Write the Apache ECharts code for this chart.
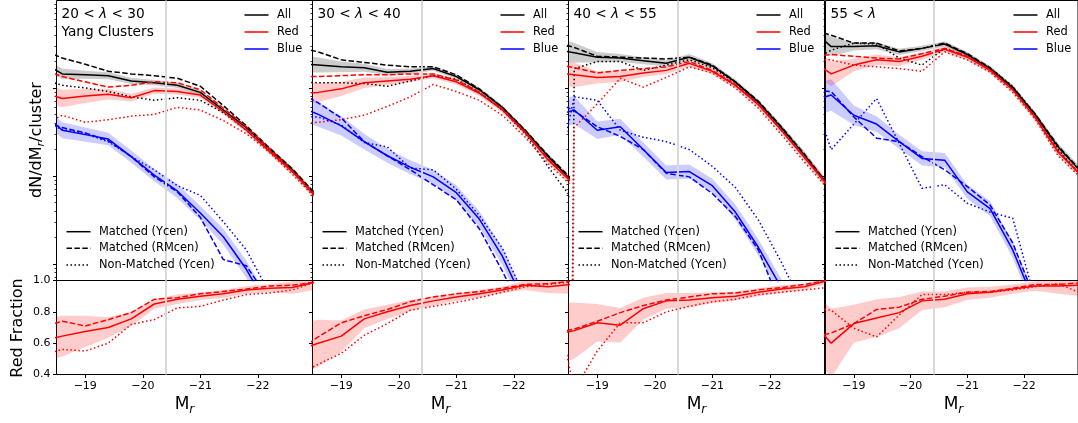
<!DOCTYPE html>
<html>
<head>
<meta charset="utf-8">
<script src="https://cdn.jsdelivr.net/npm/echarts@6.0.0/dist/echarts.min.js"></script>
<style>
html, body { margin:0; padding:0; background:#ffffff; }
#chart { width:1078px; height:423px; }
</style>
</head>
<body>
<div id="chart"></div>
<script>
// ---------------- DATA ----------------
// magnitude bin centres (M_r)
const magBins = [-18.2, -18.6, -19.0, -19.4, -19.8, -20.2, -20.6, -21.0, -21.4, -21.8, -22.2, -22.6, -23.0];
const xTickVals = [-19, -20, -21, -22];
const refMag = -20.4;
const panelTitles = ['20 < λ < 30', '30 < λ < 40', '40 < λ < 55', '55 < λ'];
const subTitle = 'Yang Clusters';
const colourLegend = ['All', 'Red', 'Blue'];
const styleLegend = ['Matched (Ycen)', 'Matched (RMcen)', 'Non-Matched (Ycen)'];
const majorLogTicks = [0.1, 1, 10];
const minorLogTicks = [0.07, 0.08, 0.09, 0.2, 0.3, 0.4, 0.5, 0.6, 0.7, 0.8, 0.9, 2, 3, 4, 5, 6, 7, 8, 9, 20, 30, 40, 50, 60, 70, 80, 90];

// log10(dN/dM_r per cluster); -30 marks an empty bin (zero counts)
// Panel 1 : 20 < lambda < 30
const p1AllMatched  = [1.31, 1.16, 1.15, 1.14, 1.08, 1.06, 1.03, 0.95, 0.75, 0.55, 0.31, 0.07, -0.22];
const p1AllRM       = [1.45, 1.34, 1.27, 1.19, 1.16, 1.14, 1.11, 1.02, 0.80, 0.57, 0.32, 0.08, -0.20];
const p1AllNon      = [1.11, 1.03, 1.00, 0.96, 0.90, 0.86, 0.89, 0.86, 0.72, 0.52, 0.30, 0.05, -0.23];
const p1RedMatched  = [0.96, 0.88, 0.91, 0.93, 0.89, 0.97, 0.96, 0.92, 0.73, 0.52, 0.28, 0.05, -0.23];
const p1RedRM       = [1.22, 1.13, 1.07, 1.01, 1.03, 1.07, 1.06, 0.98, 0.77, 0.56, 0.31, 0.06, -0.22];
const p1RedNon      = [0.56, 0.69, 0.61, 0.64, 0.68, 0.70, 0.78, 0.75, 0.63, 0.48, 0.27, 0.02, -0.25];
const p1BlueMatched = [0.75, 0.52, 0.47, 0.42, 0.22, 0.01, -0.17, -0.42, -0.69, -1.06, -1.52, -1.98, -2.43];
const p1BlueRM      = [0.64, 0.55, 0.49, 0.40, 0.22, -0.01, -0.18, -0.47, -0.95, -1.02, -1.41, -1.98, -2.43];
const p1BlueNon     = [0.63, 0.53, 0.48, 0.39, 0.22, 0.07, -0.11, -0.22, -0.52, -0.84, -1.33, -1.75, -2.20];
const p1AllErr      = [0.07, 0.06, 0.045, 0.04, 0.035, 0.03, 0.03, 0.025, 0.025, 0.025, 0.025, 0.03, 0.035];
const p1RedErr      = [0.11, 0.10, 0.08, 0.06, 0.045, 0.035, 0.035, 0.03, 0.03, 0.03, 0.03, 0.035, 0.04];
const p1BlueErr     = [0.10, 0.09, 0.08, 0.07, 0.07, 0.07, 0.08, 0.08, 0.09, 0.10, 0.11, 0.125, 0.14];
const p1FracMatched = [0.61, 0.645, 0.675, 0.70, 0.755, 0.85, 0.88, 0.90, 0.915, 0.94, 0.95, 0.955, 0.99];
const p1FracRM      = [0.70, 0.74, 0.71, 0.75, 0.795, 0.88, 0.89, 0.915, 0.93, 0.945, 0.965, 0.97, 0.99];
const p1FracNon     = [0.52, 0.56, 0.55, 0.60, 0.72, 0.75, 0.825, 0.835, 0.875, 0.91, 0.92, 0.94, 0.99];
const p1FracErr     = [0.14, 0.13, 0.10, 0.065, 0.045, 0.03, 0.03, 0.025, 0.025, 0.025, 0.025, 0.04, 0.05];

// Panel 2 : 30 < lambda < 40
const p2AllMatched  = [1.28, 1.26, 1.24, 1.23, 1.18, 1.19, 1.22, 1.13, 0.98, 0.78, 0.51, 0.22, -0.05];
const p2AllRM       = [1.47, 1.41, 1.32, 1.29, 1.26, 1.24, 1.24, 1.15, 0.99, 0.78, 0.52, 0.23, -0.03];
const p2AllNon      = [1.07, 1.06, 1.06, 1.05, 1.02, 1.08, 1.14, 1.10, 0.95, 0.75, 0.48, 0.10, -0.25];
const p2RedMatched  = [0.94, 0.95, 0.99, 1.06, 1.08, 1.10, 1.14, 1.07, 0.94, 0.75, 0.49, 0.18, -0.07];
const p2RedRM       = [1.13, 1.13, 1.14, 1.15, 1.15, 1.16, 1.16, 1.09, 0.95, 0.76, 0.50, 0.19, -0.06];
const p2RedNon      = [0.60, 0.61, 0.64, 0.69, 0.79, 0.90, 1.04, 0.96, 0.86, 0.69, 0.44, 0.14, -0.11];
const p2BlueMatched = [0.81, 0.70, 0.57, 0.39, 0.23, 0.10, -0.01, -0.19, -0.49, -0.91, -1.47, -2.03, -2.60];
const p2BlueRM      = [0.98, 0.83, 0.66, 0.39, 0.23, 0.07, -0.10, -0.27, -0.60, -1.08, -1.61, -2.18, -2.75];
const p2BlueNon     = [0.68, 0.67, 0.58, 0.38, 0.33, 0.09, 0.07, -0.15, -0.45, -0.82, -1.39, -1.98, -2.55];
const p2AllErr      = [0.10, 0.085, 0.06, 0.045, 0.035, 0.03, 0.025, 0.025, 0.025, 0.025, 0.025, 0.03, 0.035];
const p2RedErr      = [0.12, 0.11, 0.08, 0.06, 0.045, 0.035, 0.03, 0.03, 0.03, 0.03, 0.03, 0.035, 0.04];
const p2BlueErr     = [0.15, 0.14, 0.11, 0.09, 0.08, 0.08, 0.08, 0.085, 0.09, 0.10, 0.11, 0.12, 0.13];
const p2FracMatched = [0.55, 0.60, 0.645, 0.755, 0.80, 0.84, 0.87, 0.895, 0.915, 0.94, 0.97, 0.96, 0.975];
const p2FracRM      = [0.54, 0.64, 0.73, 0.775, 0.815, 0.865, 0.895, 0.915, 0.93, 0.95, 0.975, 0.98, 0.995];
const p2FracNon     = [0.39, 0.465, 0.535, 0.65, 0.725, 0.81, 0.835, 0.86, 0.89, 0.925, 0.96, 0.975, 0.99];
const p2FracErr     = [0.17, 0.15, 0.10, 0.06, 0.045, 0.035, 0.03, 0.025, 0.025, 0.02, 0.03, 0.04, 0.06];

// Panel 3 : 40 < lambda < 55
const p3AllMatched  = [1.45, 1.40, 1.35, 1.34, 1.31, 1.28, 1.35, 1.25, 1.07, 0.84, 0.55, 0.24, -0.10];
const p3AllRM       = [1.53, 1.46, 1.36, 1.35, 1.34, 1.33, 1.35, 1.26, 1.07, 0.85, 0.56, 0.25, -0.09];
const p3AllNon      = [-30, 1.22, 1.30, 1.30, 1.20, 1.26, 1.32, 1.23, 1.06, 0.83, 0.53, 0.22, -0.11];
const p3RedMatched  = [1.18, 1.15, 1.12, 1.13, 1.17, 1.20, 1.28, 1.19, 1.03, 0.81, 0.52, 0.21, -0.10];
const p3RedRM       = [1.28, 1.23, 1.17, 1.20, 1.22, 1.24, 1.30, 1.20, 1.04, 0.82, 0.52, 0.22, -0.10];
const p3RedNon      = [-30, 0.55, 0.82, 1.11, 1.01, 1.12, 1.24, 1.17, 1.00, 0.77, 0.47, 0.16, -0.14];
const p3BlueMatched = [0.67, 0.75, 0.52, 0.56, 0.30, 0.04, 0.05, -0.11, -0.41, -0.81, -1.27, -1.75, -2.26];
const p3BlueRM      = [0.87, 0.74, 0.56, 0.45, 0.30, 0.03, -0.01, -0.20, -0.46, -0.84, -1.49, -2.09, -2.66];
const p3BlueNon     = [-0.30, 0.90, 0.86, 0.52, 0.44, 0.39, 0.30, 0.11, -0.13, -0.50, -0.98, -1.52, -2.09];
const p3AllErr      = [0.14, 0.11, 0.06, 0.045, 0.04, 0.035, 0.035, 0.03, 0.03, 0.03, 0.035, 0.04, 0.045];
const p3RedErr      = [0.15, 0.14, 0.07, 0.06, 0.045, 0.04, 0.035, 0.035, 0.035, 0.035, 0.035, 0.04, 0.045];
const p3BlueErr     = [0.17, 0.16, 0.10, 0.09, 0.08, 0.08, 0.08, 0.08, 0.085, 0.09, 0.10, 0.11, 0.125];
const p3FracMatched = [0.65, 0.68, 0.73, 0.715, 0.82, 0.87, 0.875, 0.89, 0.90, 0.925, 0.945, 0.96, 1.0];
const p3FracRM      = [0.66, 0.69, 0.74, 0.795, 0.84, 0.875, 0.895, 0.915, 0.92, 0.94, 0.955, 0.975, 1.0];
const p3FracNon     = [1.0, 0.30, 0.55, 0.73, 0.73, 0.80, 0.835, 0.865, 0.88, 0.91, 0.925, 0.94, 0.955];
const p3FracErr     = [0.20, 0.18, 0.12, 0.11, 0.07, 0.05, 0.045, 0.035, 0.03, 0.025, 0.025, 0.02, 0.02];

// Panel 4 : 55 < lambda
const p4AllMatched  = [1.70, 1.47, 1.47, 1.48, 1.41, 1.45, 1.50, 1.38, 1.22, 1.00, 0.69, 0.33, 0.05];
const p4AllRM       = [1.68, 1.60, 1.51, 1.51, 1.42, 1.45, 1.51, 1.39, 1.23, 1.01, 0.70, 0.34, 0.06];
const p4AllNon      = [1.28, 1.43, 1.51, 1.50, 1.34, 1.26, 1.45, 1.36, 1.23, 1.02, 0.70, 0.30, 0.01];
const p4RedMatched  = [1.34, 1.16, 1.26, 1.32, 1.30, 1.36, 1.44, 1.35, 1.20, 0.98, 0.66, 0.27, 0.01];
const p4RedRM       = [1.35, 1.38, 1.36, 1.34, 1.33, 1.39, 1.45, 1.36, 1.21, 0.98, 0.67, 0.28, 0.01];
const p4RedNon      = [1.32, 1.32, 1.26, 1.24, 1.22, 1.19, 1.41, 1.32, 1.18, 0.95, 0.64, 0.23, -0.02];
const p4BlueMatched = [0.84, 0.92, 0.69, 0.59, 0.39, 0.20, 0.18, -0.18, -0.37, -0.84, -1.47, -1.98, -2.55];
const p4BlueRM      = [0.98, 0.96, 0.67, 0.43, 0.39, 0.22, 0.07, -0.12, -0.33, -0.76, -1.41, -1.98, -2.55];
const p4BlueNon     = [1.07, 0.30, 0.59, 0.88, 0.37, -0.14, -0.10, -0.31, -0.41, -0.48, -1.42, -2.09, -2.77];
const p4AllErr      = [0.12, 0.11, 0.045, 0.04, 0.035, 0.03, 0.03, 0.03, 0.03, 0.03, 0.035, 0.04, 0.045];
const p4RedErr      = [0.15, 0.14, 0.07, 0.06, 0.05, 0.04, 0.035, 0.035, 0.035, 0.035, 0.035, 0.04, 0.045];
const p4BlueErr     = [0.19, 0.18, 0.11, 0.09, 0.08, 0.08, 0.08, 0.08, 0.085, 0.09, 0.10, 0.11, 0.12];
const p4FracMatched = [0.765, 0.60, 0.725, 0.76, 0.795, 0.87, 0.88, 0.915, 0.925, 0.945, 0.965, 0.965, 0.97];
const p4FracRM      = [0.63, 0.665, 0.725, 0.815, 0.83, 0.88, 0.90, 0.925, 0.93, 0.95, 0.975, 0.975, 0.985];
const p4FracNon     = [0.83, 0.81, 0.695, 0.64, 0.78, 0.91, 0.91, 0.925, 0.925, 0.94, 0.96, 0.98, 0.92];
const p4FracErr     = [0.20, 0.22, 0.12, 0.12, 0.10, 0.06, 0.05, 0.04, 0.035, 0.03, 0.03, 0.05, 0.07];

// ---------------- LAYOUT / STYLE ----------------
const FONT = 'DejaVu Sans';
const LEFTS = [56.5, 312.5, 568.5, 825.5];
const PANEL_W = 256;
const TOP_Y = 0.5, TOP_H = 280, BOT_Y = 280.5, BOT_H = 94;
const X_MIN = -22.95, X_MAX = -18.5;
const Y_LOG_MIN = Math.pow(10, -1.1875), Y_LOG_MAX = Math.pow(10, 1.994);
const LINE_W = 1.5;
const DASHES = ['solid', [5.5, 2.4], [1.5, 2.5]];
const COLORS = { all: '#000000', red: '#ff0000', blue: '#0000ff' };
const BANDS = { all: 'rgba(0,0,0,0.2)', red: 'rgba(255,0,0,0.2)', blue: 'rgba(0,0,255,0.2)' };

const panels = [
  { all: [p1AllMatched, p1AllRM, p1AllNon], red: [p1RedMatched, p1RedRM, p1RedNon], blue: [p1BlueMatched, p1BlueRM, p1BlueNon],
    err: { all: p1AllErr, red: p1RedErr, blue: p1BlueErr }, frac: [p1FracMatched, p1FracRM, p1FracNon], fracErr: p1FracErr },
  { all: [p2AllMatched, p2AllRM, p2AllNon], red: [p2RedMatched, p2RedRM, p2RedNon], blue: [p2BlueMatched, p2BlueRM, p2BlueNon],
    err: { all: p2AllErr, red: p2RedErr, blue: p2BlueErr }, frac: [p2FracMatched, p2FracRM, p2FracNon], fracErr: p2FracErr },
  { all: [p3AllMatched, p3AllRM, p3AllNon], red: [p3RedMatched, p3RedRM, p3RedNon], blue: [p3BlueMatched, p3BlueRM, p3BlueNon],
    err: { all: p3AllErr, red: p3RedErr, blue: p3BlueErr }, frac: [p3FracMatched, p3FracRM, p3FracNon], fracErr: p3FracErr },
  { all: [p4AllMatched, p4AllRM, p4AllNon], red: [p4RedMatched, p4RedRM, p4RedNon], blue: [p4BlueMatched, p4BlueRM, p4BlueNon],
    err: { all: p4AllErr, red: p4RedErr, blue: p4BlueErr }, frac: [p4FracMatched, p4FracRM, p4FracNon], fracErr: p4FracErr }
];

const grid = [], xAxis = [], yAxis = [], series = [], graphic = [];

function bandSeries(xi, yi, centre, err, fill, isLog) {
  return {
    type: 'custom', xAxisIndex: xi, yAxisIndex: yi, clip: true, silent: true, z: 2,
    data: [[-20.0, isLog ? 1 : 0.7]],
    renderItem: function (params, api) {
      const val = (k, s) => isLog ? Math.pow(10, centre[k] + s * err[k]) : centre[k] + s * err[k];
      const upper = magBins.map((m, k) => api.coord([m, val(k, 1)]));
      const lower = magBins.map((m, k) => api.coord([m, val(k, -1)])).reverse();
      return { type: 'polygon', shape: { points: upper.concat(lower) }, style: { fill: fill, stroke: null } };
    }
  };
}
function lineSeries(xi, yi, vals, colour, dash, isLog) {
  return {
    type: 'line', xAxisIndex: xi, yAxisIndex: yi, silent: true, z: 3, clip: true,
    symbol: 'none', showSymbol: false, animation: false,
    data: magBins.map((m, k) => [m, isLog ? Math.pow(10, vals[k]) : vals[k]]),
    lineStyle: { color: colour, width: LINE_W, type: dash, cap: 'butt' }
  };
}
function refLine(xi, yi) {
  return {
    type: 'line', xAxisIndex: xi, yAxisIndex: yi, data: [], silent: true, z: 1, symbol: 'none',
    markLine: { silent: true, symbol: ['none', 'none'], label: { show: false }, animation: false,
      lineStyle: { color: '#d9d9d9', width: 2, type: 'solid' }, data: [{ xAxis: refMag }] }
  };
}
function txt(x, y, text, size, opts) {
  opts = opts || {};
  const style = Object.assign({
    text: text, fontSize: size, fontFamily: FONT, fill: '#000',
    align: opts.align || 'left', textAlign: opts.align || 'left',
    verticalAlign: 'middle', textVerticalAlign: 'middle'
  }, opts.style || {});
  return { type: 'text', x: x, y: y, rotation: opts.rotation || 0, z: 100, silent: true, style: style };
}
function seg(x1, y1, x2, y2, colour, dash) {
  return { type: 'line', z: 100, silent: true, shape: { x1: x1, y1: y1, x2: x2, y2: y2 },
    style: { stroke: colour, lineWidth: LINE_W, lineDash: dash === 'solid' ? null : dash } };
}

panels.forEach((p, i) => {
  const L = LEFTS[i], R = L + PANEL_W;
  const xiTop = 2 * i, xiBot = 2 * i + 1;
  const yiTop = 3 * i, yiMinor = 3 * i + 1, yiBot = 3 * i + 2;
  grid.push({ left: L, top: TOP_Y, width: PANEL_W, height: TOP_H, show: true, borderColor: '#000', borderWidth: 1, backgroundColor: 'rgba(0,0,0,0)' });
  grid.push({ left: L, top: BOT_Y, width: PANEL_W, height: BOT_H, show: true, borderColor: '#000', borderWidth: 1, backgroundColor: 'rgba(0,0,0,0)' });

  [0, 1].forEach(b => {
    xAxis.push({
      type: 'value', gridIndex: 2 * i + b, min: X_MIN, max: X_MAX, inverse: true,
      axisLine: { show: false }, splitLine: { show: false },
      axisTick: { show: b === 1, length: 3.5, inside: false, customValues: xTickVals, lineStyle: { color: '#000', width: 1 } },
      axisLabel: { show: b === 1, customValues: xTickVals, margin: 6, fontSize: 11, fontFamily: FONT, color: '#000',
        formatter: v => '\u2212' + Math.abs(v) }
    });
  });
  yAxis.push({
    type: 'log', logBase: 10, gridIndex: xiTop, min: Y_LOG_MIN, max: Y_LOG_MAX,
    axisLine: { show: false }, splitLine: { show: false }, axisLabel: { show: false },
    axisTick: { show: true, length: 3.5, customValues: majorLogTicks, lineStyle: { color: '#000', width: 1 } }
  });
  yAxis.push({
    type: 'log', logBase: 10, gridIndex: xiTop, min: Y_LOG_MIN, max: Y_LOG_MAX, position: 'left', offset: 0,
    axisLine: { show: false }, splitLine: { show: false }, axisLabel: { show: false },
    axisTick: { show: true, length: 2, customValues: minorLogTicks, lineStyle: { color: '#000', width: 0.8 } }
  });
  yAxis.push({
    type: 'value', gridIndex: xiBot, min: 0.4, max: 1.0, interval: 0.2,
    axisLine: { show: false }, splitLine: { show: false },
    axisTick: { show: true, length: 3.5, lineStyle: { color: '#000', width: 1 } },
    axisLabel: { show: i === 0, margin: 6, fontSize: 11, fontFamily: FONT, color: '#000', formatter: v => v.toFixed(1) }
  });

  // reference magnitude lines
  series.push(refLine(xiTop, yiTop));
  series.push(refLine(xiBot, yiBot));
  // bands
  ['all', 'red', 'blue'].forEach(g => series.push(bandSeries(xiTop, yiTop, p[g][0], p.err[g], BANDS[g], true)));
  series.push(bandSeries(xiBot, yiBot, p.frac[0], p.fracErr, BANDS.red, false));
  // luminosity function lines
  ['all', 'red', 'blue'].forEach(g => {
    p[g].forEach((arr, s) => series.push(lineSeries(xiTop, yiTop, arr, COLORS[g], DASHES[s], true)));
  });
  // red fraction lines
  p.frac.forEach((arr, s) => series.push(lineSeries(xiBot, yiBot, arr, COLORS.red, DASHES[s], false)));

  // panel title
  const parts = panelTitles[i].split('λ');
  let rt = '{n|' + parts[0] + '}{l|λ}';
  if (parts[1]) rt += '{n|' + parts[1] + '}';
  graphic.push(txt(L + 5, 14, rt, 13.7, { style: { rich: {
    n: { fontSize: 13.7, fontFamily: FONT, fill: '#000', color: '#000' },
    l: { fontSize: 13.7, fontFamily: FONT, fontStyle: 'italic', fill: '#000', color: '#000' } } } }));
  if (i === 0) graphic.push(txt(L + 5, 32.3, subTitle, 13.7));

  // colour legend (top right)
  ['all', 'red', 'blue'].forEach((g, k) => {
    const y = 15 + 17 * k;
    graphic.push(seg(R - 68, y, R - 44, y, COLORS[g], 'solid'));
    graphic.push(txt(R - 35.5, y, colourLegend[k], 11.4));
  });
  // line style legend (bottom left)
  DASHES.forEach((d, k) => {
    const y = 231.7 + 16.65 * k;
    graphic.push(seg(L + 10, y, L + 34, y, '#000', d));
    graphic.push(txt(L + 42.5, y, styleLegend[k], 11.4));
  });
  // x axis name
  graphic.push(txt(L + PANEL_W / 2, 405, '{m|M}{s|r}', 17, { align: 'center', style: { rich: {
    m: { fontSize: 17, fontFamily: FONT, lineHeight: 21, fill: '#000', color: '#000' },
    s: { fontSize: 12, fontFamily: FONT, fontStyle: 'italic', lineHeight: 12, verticalAlign: 'bottom', fill: '#000', color: '#000' } } } }));
});

// y axis names
graphic.push(txt(36.5, 140, '{a|dN/dM}{b|r}{a|/cluster}', 16, { align: 'center', rotation: Math.PI / 2, style: { rich: {
  a: { fontSize: 16, fontFamily: FONT, lineHeight: 20, fill: '#000', color: '#000' },
  b: { fontSize: 11, fontFamily: FONT, fontStyle: 'italic', lineHeight: 11, verticalAlign: 'bottom', fill: '#000', color: '#000' } } } }));
graphic.push(txt(18, 328, 'Red Fraction', 16, { align: 'center', rotation: Math.PI / 2 }));

const chart = echarts.init(document.getElementById('chart'), null, { renderer: 'canvas' });
chart.setOption({
  animation: false,
  backgroundColor: '#ffffff',
  textStyle: { fontFamily: FONT },
  grid: grid, xAxis: xAxis, yAxis: yAxis, series: series, graphic: graphic
});
</script>
</body>
</html>
